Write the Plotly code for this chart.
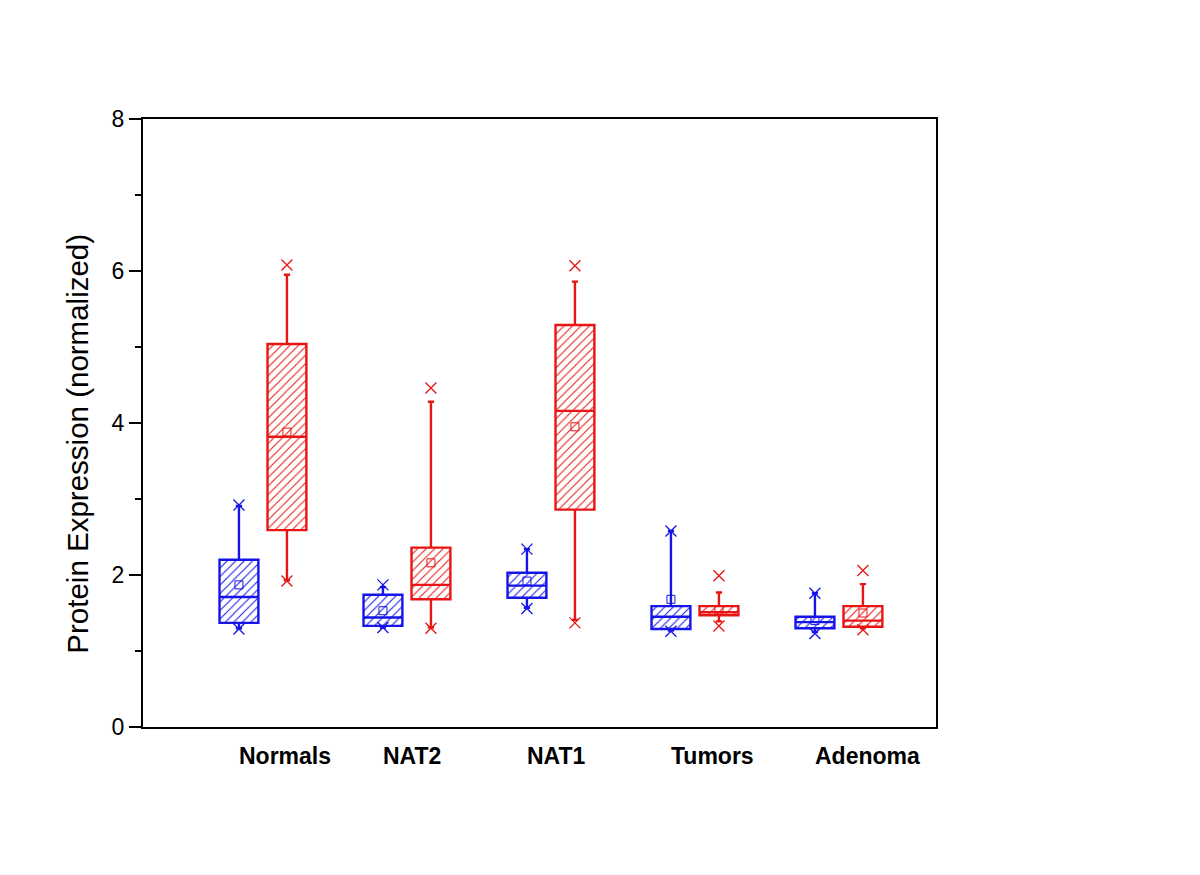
import plotly.graph_objects as go

categories = ["Normals", "NAT2", "NAT1", "Tumors", "Adenoma"]

# Blue series (box stats)
blue_q1 = [1.37, 1.33, 1.70, 1.29, 1.30]
blue_median = [1.71, 1.44, 1.86, 1.45, 1.38]
blue_q3 = [2.20, 1.74, 2.03, 1.59, 1.45]
blue_low = [1.30, 1.31, 1.57, 1.27, 1.25]
blue_high = [2.91, 1.84, 2.34, 2.58, 1.76]
blue_mean = [1.87, 1.53, 1.92, 1.68, 1.40]
blue_min = [1.29, 1.31, 1.56, 1.26, 1.23]
blue_max = [2.92, 1.87, 2.34, 2.58, 1.76]

# Red series (box stats)
red_q1 = [2.59, 1.68, 2.86, 1.47, 1.32]
red_median = [3.82, 1.87, 4.16, 1.51, 1.40]
red_q3 = [5.04, 2.36, 5.29, 1.59, 1.59]
red_low = [1.93, 1.31, 1.41, 1.39, 1.30]
red_high = [5.95, 4.28, 5.86, 1.77, 1.88]
red_mean = [3.88, 2.16, 3.95, 1.54, 1.50]
red_min = [1.92, 1.30, 1.37, 1.33, 1.28]
red_max = [6.08, 4.46, 6.07, 1.99, 2.06]

BLUE = "#1515e8"
RED = "#e81515"
FONT = "Arial, Liberation Sans, sans-serif"

offset = 1 / 6
bw = 0.27
idx = list(range(len(categories)))

fig = go.Figure()


def add_series(sign, color, q1, med, q3, low, high, mean, mn, mx, name):
    pos = [i + sign * offset for i in idx]
    # hatched body
    fig.add_trace(go.Bar(
        x=pos, base=q1, y=[b - a for a, b in zip(q1, q3)], width=bw,
        marker=dict(color="white",
                    line=dict(width=0),
                    pattern=dict(shape="/", fgcolor=color, bgcolor="white",
                                 size=6, solidity=0.17, fillmode="replace")),
        showlegend=False, hoverinfo="skip", name=name))
    # box outline, median, whiskers
    fig.add_trace(go.Box(
        x=pos, q1=q1, median=med, q3=q3, lowerfence=low, upperfence=high,
        width=bw, whiskerwidth=0.16, fillcolor="rgba(0,0,0,0)",
        line=dict(color=color, width=2.4), showlegend=False, name=name,
        boxpoints=False))
    # mean
    fig.add_trace(go.Scatter(
        x=pos, y=mean, mode="markers",
        marker=dict(symbol="square-open", size=8, color=color,
                    line=dict(width=1, color=color)),
        showlegend=False, hoverinfo="skip"))
    # extremes
    fig.add_trace(go.Scatter(
        x=pos + pos, y=mn + mx, mode="markers",
        marker=dict(symbol="x-thin-open", size=11, color=color,
                    line=dict(width=1.3, color=color)),
        showlegend=False, hoverinfo="skip"))


add_series(-1, BLUE, blue_q1, blue_median, blue_q3, blue_low, blue_high,
           blue_mean, blue_min, blue_max, "blue")
add_series(1, RED, red_q1, red_median, red_q3, red_low, red_high,
           red_mean, red_min, red_max, "red")

for i, c in enumerate(categories):
    fig.add_annotation(
        x=i - offset, y=0, xref="x", yref="paper", text=f"<b>{c}</b>",
        showarrow=False, xanchor="left", yanchor="middle", yshift=-29,
        xshift=-2, font=dict(family=FONT, size=23, color="black"))

fig.add_annotation(
    x=-0.082, y=0.466, xref="paper", yref="paper",
    text="Protein Expression (normalized)", textangle=-90, showarrow=False,
    xanchor="center", yanchor="middle",
    font=dict(family=FONT, size=29.5, color="black"))

fig.update_layout(
    width=1192, height=867,
    margin=dict(l=135, r=264, t=111, b=148),
    paper_bgcolor="white", plot_bgcolor="white",
    barmode="overlay", boxmode="overlay",
    showlegend=False,
    xaxis=dict(range=[-0.833, 4.674], showticklabels=False, ticks="",
               showgrid=False, zeroline=False, showline=True, mirror=True,
               linecolor="black", linewidth=2),
    yaxis=dict(range=[0, 8], tickvals=[0, 2, 4, 6, 8], ticks="outside",
               ticklen=12, tickwidth=1.5, tickcolor="black",
               minor=dict(tickvals=[1, 3, 5, 7], ticks="outside", ticklen=6,
                          tickwidth=1.5, tickcolor="black", showgrid=False),
               showgrid=False, zeroline=False, showline=True, mirror=True,
               linecolor="black", linewidth=2,
               tickfont=dict(family=FONT, size=23, color="black")),
)

fig.write_html("out.html")
